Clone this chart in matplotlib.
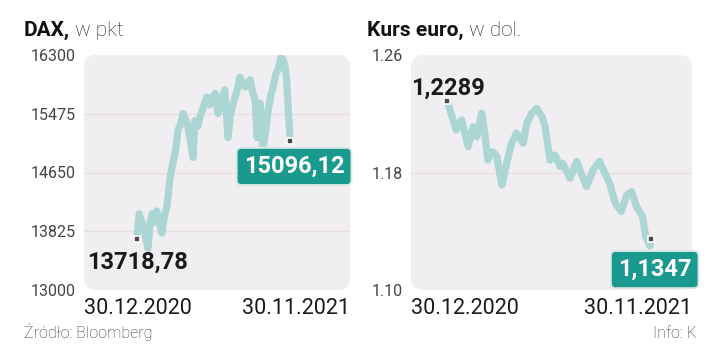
import matplotlib.pyplot as plt
from matplotlib.patches import FancyBboxPatch

plt.rcParams['font.family'] = ['Roboto', 'DejaVu Sans']

# days since 30.12.2020
DAX_DAYS = [0, 5, 9, 13, 18, 24, 28, 33, 38, 43, 48, 54, 60, 65, 72, 78, 84, 89, 95,
            100, 105, 109, 115, 122, 126, 132, 137, 144, 152, 158, 163, 170, 176, 185,
            191, 198, 203, 207, 213, 218, 224, 230, 235, 241, 246, 252, 257, 261, 265,
            268, 271, 274, 278, 281, 285, 290, 296, 302, 307, 313, 318, 322, 326, 330,
            333, 335]
DAX_VALUES = [13719, 14072, 13980, 13930, 13780, 13580, 13900, 14070, 13950, 14110,
              13980, 13800, 14050, 14160, 14580, 14780, 14950, 15240, 15330, 15480,
              15400, 15340, 15140, 14860, 15380, 15300, 15430, 15570, 15710, 15600,
              15670, 15760, 15480, 15710, 15810, 15140, 15450, 15570, 15700, 15810,
              15990, 15900, 15850, 15900, 15950, 15760, 15670, 15140, 15500, 15620,
              15300, 15000, 15150, 15290, 15500, 15710, 15850, 16040, 16100, 16270,
              16230, 16130, 15900, 15400, 15096]
DAX_DAYS = DAX_DAYS[:len(DAX_VALUES)]
DAX_TICKS = [13000, 13825, 14650, 15475, 16300]

EUR_DAYS = [0, 5, 15, 24, 35, 43, 49, 57, 62, 67, 75, 82, 90, 98, 106, 114, 125, 131,
            139, 147, 156, 161, 169, 177, 186, 190, 202, 213, 221, 229, 240, 250, 258,
            267, 276, 286, 295, 303, 311, 321, 326, 333, 335]
EUR_VALUES = [1.2289, 1.2226, 1.2090, 1.2158, 1.1976, 1.2112, 1.2044, 1.2203, 1.2069,
              1.1885, 1.1942, 1.1908, 1.1715, 1.1863, 1.1999, 1.2067, 1.1999, 1.2135,
              1.2203, 1.2237, 1.2180, 1.2112, 1.1885, 1.1919, 1.1840, 1.1863, 1.1761,
              1.1876, 1.1783, 1.1704, 1.1817, 1.1876, 1.1807, 1.1727, 1.1591, 1.1535,
              1.1647, 1.1670, 1.1567, 1.1500, 1.1363, 1.1300, 1.1347]
EUR_TICKS = [1.10, 1.18, 1.26]

LINE = '#acd6d4'
TEAL = '#1a998e'
BG = '#f1eef2'
GRID = '#e6dde1'

fig = plt.figure(figsize=(7.2, 3.56), dpi=100)


def panel(rect, days, vals, ticks, tick_labels, xlim, first_txt, last_txt, first_off, last_off):
    ax = fig.add_axes(rect)
    ax.set_facecolor('none')
    bb = ax.get_position()
    w_px = bb.width * 720
    h_px = bb.height * 356
    ax.add_patch(FancyBboxPatch((0, 0), 1, 1, transform=ax.transAxes,
                                boxstyle='round,pad=0,rounding_size=0.045',
                                mutation_aspect=w_px / h_px,
                                fc=BG, ec='none', zorder=0, clip_on=False))
    ax.set_xlim(*xlim)
    ax.set_ylim(ticks[0], ticks[-1])
    for t in ticks[1:-1]:
        ax.axhline(t, color=GRID, lw=0.9, zorder=1)
    ax.plot(days, vals, color=LINE, lw=5.2, solid_capstyle='round',
            solid_joinstyle='round', zorder=2)
    ax.plot([days[0], days[-1]], [vals[0], vals[-1]], ls='none', marker='s', ms=5,
            mfc='#4a4a4a', mec='white', mew=1.2, zorder=3)
    ax.set_yticks(ticks)
    ax.set_yticklabels(tick_labels, fontsize=11.5, color='#444444', fontweight='normal')
    ax.tick_params(axis='y', length=0, pad=6)
    ax.set_xticks([])
    for s in ax.spines.values():
        s.set_visible(False)
    ax.annotate(first_txt, xy=(days[0], vals[0]), xytext=first_off, textcoords='offset points',
                ha='left', va='center', fontsize=17, fontweight='bold', color='#1a1a1a',
                zorder=4)
    ax.annotate(last_txt, xy=(days[-1], vals[-1]), xytext=last_off, textcoords='offset points',
                ha='right', va='center', fontsize=17, fontweight='bold', color='white',
                zorder=4,
                bbox=dict(boxstyle='round,pad=0.3,rounding_size=0.2', fc=TEAL,
                          ec='#d8e8e6', lw=1.4))
    ax.text(0, -0.035, '30.12.2020', transform=ax.transAxes, ha='left', va='top',
            fontsize=15.5, color='#1a1a1a')
    ax.text(1, -0.035, '30.11.2021', transform=ax.transAxes, ha='right', va='top',
            fontsize=15.5, color='#1a1a1a')
    return ax


ax1 = panel([84 / 720, 66 / 356, 266 / 720, 235 / 356], DAX_DAYS, DAX_VALUES, DAX_TICKS,
            [str(t) for t in DAX_TICKS], (-115, 463), '13718,78', '15096,12',
            (-36, -17), (39, -18.5))
ax2 = panel([411 / 720, 66 / 356, 281 / 720, 235 / 356], EUR_DAYS, EUR_VALUES, EUR_TICKS,
            ['%.2f' % t for t in EUR_TICKS], (-59, 402), '1,2289', '1,1347',
            (-26, 9), (29, -22))

# titles: bold part + light part
renderer = fig.canvas.get_renderer()
for x0, bold, light in [(24, 'DAX,', ' w pkt'), (367, 'Kurs euro,', ' w dol.')]:
    t = fig.text(x0 / 720, 1 - 36 / 356, bold, fontsize=15, fontweight='bold',
                 color='#111111', ha='left', va='baseline')
    bb = t.get_window_extent(renderer)
    fig.text(bb.x1 / 720, 1 - 36 / 356, light, fontsize=15, fontweight='light',
             color='#222222', ha='left', va='baseline')

fig.text(24 / 720, 1 - 338 / 356, 'Źródło: Bloomberg', fontsize=11.5, fontweight='light',
         color='#333333', ha='left', va='baseline')
fig.text(697 / 720, 1 - 338 / 356, 'Info: K', fontsize=11.5, fontweight='light',
         color='#333333', ha='right', va='baseline')

fig.savefig('out.png', dpi=100, facecolor='white')
